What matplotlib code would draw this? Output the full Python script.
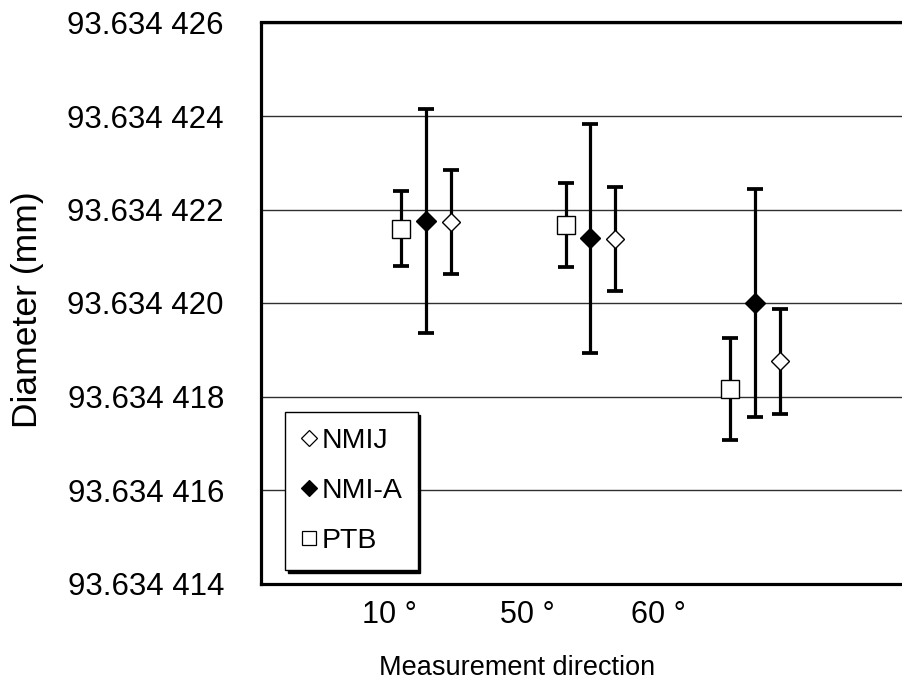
import matplotlib
matplotlib.use("Agg")
import matplotlib.pyplot as plt
from matplotlib.lines import Line2D
from matplotlib.ticker import FuncFormatter, FixedLocator

plt.rcParams['font.family'] = ['Liberation Sans', 'DejaVu Sans']

# ---------------- data ----------------
categories = ["10 °", "50 °", "60 °"]
category_x = [1, 2, 3]

nmij_mean = [93.63442174, 93.63442137, 93.63441875]
nmij_err = [0.00000111, 0.00000112, 0.00000113]

nmia_mean = [93.63442176, 93.63442138, 93.63442000]
nmia_err = [0.00000240, 0.00000244, 0.00000243]

ptb_mean = [93.63442159, 93.63442166, 93.63441816]
ptb_err = [0.00000080, 0.00000090, 0.00000109]

y_ticks = [93.634414, 93.634416, 93.634418, 93.634420,
           93.634422, 93.634424, 93.634426]

# ---------------- layout ----------------
W, H = 903, 685
fig = plt.figure(figsize=(W / 100, H / 100), dpi=100)
ax_left, ax_top, ax_bottom = 261.5, 22.5, 583.5
ax_width = 658
ax = fig.add_axes([ax_left / W, 1 - ax_bottom / H, ax_width / W,
                   (ax_bottom - ax_top) / H])

ax.set_xlim(0, 4)
ax.set_ylim(y_ticks[0], y_ticks[-1])

offset = 0.15
elw = 2.3
cap = 5.5

series = [
    ("NMIJ", nmij_mean, nmij_err, +offset, dict(marker='D', ms=9.6, mfc='white', mec='black', mew=1.0)),
    ("NMI-A", nmia_mean, nmia_err, 0.0, dict(marker='D', ms=9.8, mfc='black', mec='black', mew=1.0)),
    ("PTB", ptb_mean, ptb_err, -offset, dict(marker='s', ms=12.5, mfc='white', mec='black', mew=1.0)),
]

for name, mean, err, dx, mk in series:
    xs = [c + dx for c in category_x]
    ax.errorbar(xs, mean, yerr=err, fmt='none', ecolor='black',
                elinewidth=elw, capsize=cap, capthick=elw + 0.4, zorder=3)
    ax.plot(xs, mean, linestyle='none', zorder=4, **mk)

# grid
ax.yaxis.set_major_locator(FixedLocator(y_ticks))
ax.grid(axis='y', color='#303030', linewidth=1.0, zorder=0)
ax.set_axisbelow(True)


def fmt(v, pos):
    s = f"{v:.6f}"
    return s[:-3] + " " + s[-3:]


ax.yaxis.set_major_formatter(FuncFormatter(fmt))
ax.tick_params(axis='y', length=0, pad=27, labelsize=22.5)

# category labels (positioned as in the original text boxes)
label_x = [0.775, 1.614, 2.41]
ax.set_xticks(label_x)
ax.set_xticklabels(categories)
ax.tick_params(axis='x', length=0, pad=12, labelsize=22)

for sp in ax.spines.values():
    sp.set_linewidth(2.3)
    sp.set_color('black')

fig.text(28 / W, 1 - 310 / H, "Diameter (mm)", rotation=90,
         ha='center', va='center', fontsize=25.5)
fig.text(517 / W, 1 - 668 / H, "Measurement direction",
         ha='center', va='center', fontsize=19.5)

# legend
handles = [
    Line2D([], [], linestyle='none', marker='D', ms=8.5, mfc='white', mec='black', mew=0.9),
    Line2D([], [], linestyle='none', marker='D', ms=8.5, mfc='black', mec='black', mew=0.9),
    Line2D([], [], linestyle='none', marker='s', ms=10.5, mfc='white', mec='black', mew=0.9),
]
leg = ax.legend(handles, [s[0] for s in series], loc='lower left',
                bbox_to_anchor=((285 - ax_left) / ax_width, (ax_bottom - 570) / (ax_bottom - ax_top)),
                borderaxespad=0, fontsize=20.5, frameon=True, fancybox=False,
                shadow={'color': 'black', 'alpha': 1}, handlelength=0.6,
                handletextpad=0.12, labelspacing=0.85, borderpad=0.55)
leg.get_frame().set_edgecolor('black')
leg.get_frame().set_linewidth(1.0)
leg.get_frame().set_facecolor('white')
leg.set_zorder(5)

fig.savefig("out.png", dpi=100)
